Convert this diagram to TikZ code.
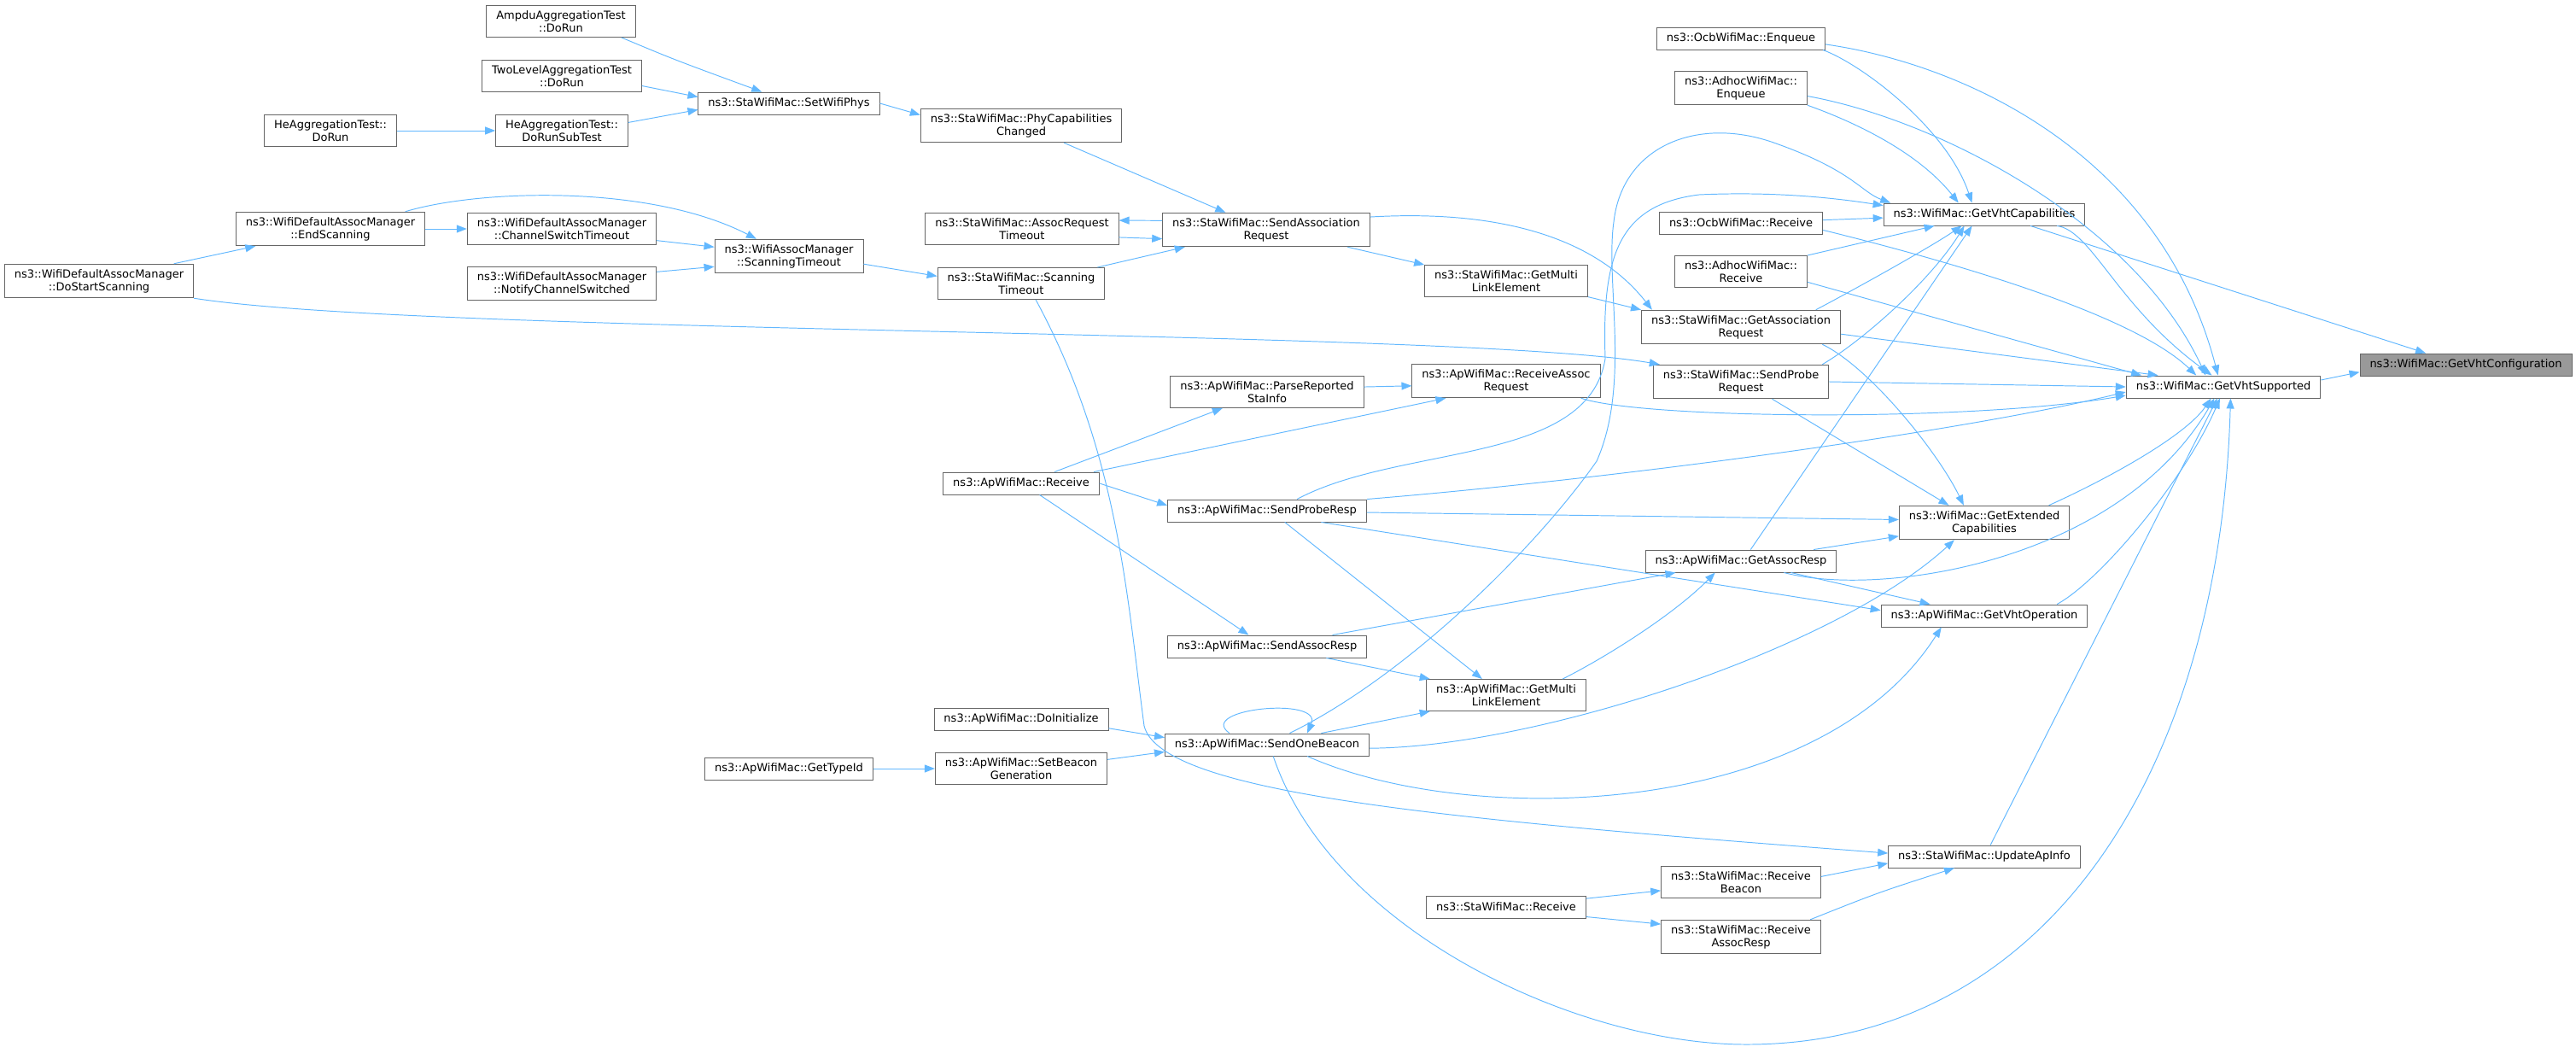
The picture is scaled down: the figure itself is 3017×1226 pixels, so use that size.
\documentclass[tikz,border=0pt]{standalone}
\usepackage{fontspec}
\usetikzlibrary{arrows.meta}
\newfontfamily\dvsans{DejaVu Sans}
\definecolor{callblue}{HTML}{63B8FF}
\definecolor{boxline}{HTML}{666666}
\definecolor{rootgray}{HTML}{999999}
\tikzset{
  fn/.style={draw=boxline, fill=white, line width=0.55pt, font=\dvsans\fontsize{7.4}{8.5}\selectfont,
    align=center, inner xsep=0.23cm, inner ysep=0.12cm, minimum height=0.52cm},
  rootfn/.style={fn, fill=rootgray},
  call/.style={->, draw=callblue, line width=0.55pt}
}
\begin{document}
\begin{tikzpicture}[x=0.02cm, y=-0.02cm, >={Triangle[length=0.24cm,width=0.18cm]}]
\useasboundingbox (0,0) rectangle (3017,1226);

% 左侧：测试与扫描
\node[fn] (ampdu) at (657,25) {AmpduAggregationTest\\::DoRun};
\node[fn] (twolevel) at (658,89) {TwoLevelAggregationTest\\::DoRun};
\node[fn] (herun) at (387,153) {HeAggregationTest::\\DoRun};
\node[fn] (hesub) at (658,153) {HeAggregationTest::\\DoRunSubTest};
\node[fn] (setphys) at (924,121) {ns3::StaWifiMac::SetWifiPhys};
\node[fn] (endscan) at (387,268) {ns3::WifiDefaultAssocManager\\::EndScanning};
\node[fn] (chswitch) at (658,268) {ns3::WifiDefaultAssocManager\\::ChannelSwitchTimeout};
\node[fn] (notify) at (658,332) {ns3::WifiDefaultAssocManager\\::NotifyChannelSwitched};
\node[fn] (startscan) at (116,329) {ns3::WifiDefaultAssocManager\\::DoStartScanning};
\node[fn] (assocscan) at (924,300) {ns3::WifiAssocManager\\::ScanningTimeout};
\node[fn] (typeid) at (924,900) {ns3::ApWifiMac::GetTypeId};

% 中间：StaWifiMac / ApWifiMac
\node[fn] (phycap) at (1196,147) {ns3::StaWifiMac::PhyCapabilities\\Changed};
\node[fn] (reqtimeout) at (1197,268) {ns3::StaWifiMac::AssocRequest\\Timeout};
\node[fn] (stascan) at (1196,332) {ns3::StaWifiMac::Scanning\\Timeout};
\node[fn] (aprecv) at (1196,566) {ns3::ApWifiMac::Receive};
\node[fn] (doinit) at (1196,842) {ns3::ApWifiMac::DoInitialize};
\node[fn] (setbeacon) at (1196,900) {ns3::ApWifiMac::SetBeacon\\Generation};
\node[fn] (sendassocreq) at (1483,269) {ns3::StaWifiMac::SendAssociation\\Request};
\node[fn] (parsesta) at (1484,459) {ns3::ApWifiMac::ParseReported\\StaInfo};
\node[fn] (proberesp) at (1484,598) {ns3::ApWifiMac::SendProbeResp};
\node[fn] (assocresp) at (1484,757) {ns3::ApWifiMac::SendAssocResp};
\node[fn] (beacon) at (1484,872) {ns3::ApWifiMac::SendOneBeacon};
\node[fn] (stamle) at (1764,329) {ns3::StaWifiMac::GetMulti\\LinkElement};
\node[fn] (recvassocreq) at (1764,446) {ns3::ApWifiMac::ReceiveAssoc\\Request};
\node[fn] (apmle) at (1764,814) {ns3::ApWifiMac::GetMulti\\LinkElement};
\node[fn] (starecv) at (1764,1062) {ns3::StaWifiMac::Receive};

% 右侧
\node[fn] (ocbenq) at (2039,45) {ns3::OcbWifiMac::Enqueue};
\node[fn] (adhocenq) at (2039,103) {ns3::AdhocWifiMac::\\Enqueue};
\node[fn] (ocbrecv) at (2039,261) {ns3::OcbWifiMac::Receive};
\node[fn] (adhocrecv) at (2039,318) {ns3::AdhocWifiMac::\\Receive};
\node[fn] (getassocreq) at (2039,383) {ns3::StaWifiMac::GetAssociation\\Request};
\node[fn] (probereq) at (2039,447) {ns3::StaWifiMac::SendProbe\\Request};
\node[fn] (getassocresp) at (2039,657) {ns3::ApWifiMac::GetAssocResp};
\node[fn] (rxbeacon) at (2039,1033) {ns3::StaWifiMac::Receive\\Beacon};
\node[fn] (rxassocresp) at (2039,1097) {ns3::StaWifiMac::Receive\\AssocResp};
\node[fn] (vhtcap) at (2324,251) {ns3::WifiMac::GetVhtCapabilities};
\node[fn] (extcap) at (2324,612) {ns3::WifiMac::GetExtended\\Capabilities};
\node[fn] (vhtop) at (2324,721) {ns3::ApWifiMac::GetVhtOperation};
\node[fn] (updateap) at (2324,1003) {ns3::StaWifiMac::UpdateApInfo};
\node[fn] (vhtsup) at (2604,453) {ns3::WifiMac::GetVhtSupported};
\node[rootfn] (vhtconf) at (2888,427) {ns3::WifiMac::GetVhtConfiguration};

% 调用边（左侧）
\draw[call] (ampdu.-15) .. controls (790,70) .. (setphys.157);
\draw[call] (twolevel.-7) -- (setphys.176);
\draw[call] (herun) -- (hesub);
\draw[call] (hesub.7) -- (setphys.-176);
\draw[call] (setphys.east) -- (phycap.174);
\draw[call] (phycap.-22) -- (sendassocreq.157);
\draw[call] (endscan) -- (chswitch);
\draw[call] (endscan.13) .. controls (560,222) and (760,215) .. (assocscan.152);
\draw[call] (chswitch.-7) -- (assocscan.173);
\draw[call] (notify.7) -- (assocscan.-172);
\draw[call] (startscan.13) -- (endscan.-167);
\draw[call] (startscan.south east) .. controls (500,392) and (1700,385) .. (probereq.168);
\draw[call] (assocscan.-6) -- (stascan.175);
\draw[call] (stascan.12) -- (sendassocreq.-168);
\draw[call] (sendassocreq.175) -- (reqtimeout.5);
\draw[call] (reqtimeout.-5) -- (sendassocreq.-175);
\draw[call] (sendassocreq.-12) -- (stamle.north west);
\draw[call] (sendassocreq.7) .. controls (1760,245) and (1870,280) .. (getassocreq.169);
\draw[call] (stamle.-11) -- (getassocreq.north west);
\draw[call] (stascan.-48) .. controls (1310,530) and (1320,700) .. (1340,850)
  .. controls (1360,930) and (1700,960) .. (updateap.178);
\draw[call] (typeid) -- (setbeacon);

% 调用边（右侧）
\draw[call] (ocbenq.-8) .. controls (2180,75) and (2280,150) .. (vhtcap.137);
\draw[call] (ocbenq.-4) .. controls (2300,75) and (2530,180) .. (vhtsup.115);
\draw[call] (adhocenq.south east) .. controls (2150,135) and (2240,170) .. (vhtcap.156);
\draw[call] (adhocenq.-7) .. controls (2270,140) and (2500,260) .. (vhtsup.147);
\draw[call] (ocbrecv.2) -- (vhtcap.-178);
\draw[call] (ocbrecv.-5) .. controls (2300,310) and (2500,370) .. (vhtsup.157);
\draw[call] (adhocrecv.north east) -- (vhtcap.-167);
\draw[call] (adhocrecv.-9) -- (vhtsup.172);
\draw[call] (getassocreq.13) .. controls (2170,340) and (2260,290) .. (vhtcap.-153);
\draw[call] (getassocreq.-4) -- (vhtsup.170);
\draw[call] (getassocreq.-12) .. controls (2190,430) and (2270,530) .. (extcap.140);
\draw[call] (probereq.12) .. controls (2180,400) and (2260,330) .. (vhtcap.-150);
\draw[call] (probereq.east) -- (vhtsup.west);
\draw[call] (probereq.-29) -- (extcap.154);
\draw[call] (vhtcap.-14) -- (vhtconf.164);
\draw[call] (vhtsup.4) -- (vhtconf.-176);
\draw[call] (vhtcap.-9) .. controls (2450,270) and (2480,360) .. (vhtsup.135);
\draw[call] (extcap.15) .. controls (2470,560) and (2560,510) .. (vhtsup.-137);
\draw[call] (vhtop.9) .. controls (2460,680) and (2560,560) .. (vhtsup.-107);
\draw[call] (getassocresp.50) -- (vhtcap.-137);
\draw[call] (getassocresp.9) -- (extcap.-171);
\draw[call] (getassocresp.-13) -- (vhtop.168);
\draw[call] (getassocresp.-15) .. controls (2200,700) and (2480,660) .. (vhtsup.-128);
\draw[call] (updateap.62) -- (vhtsup.-118);
\draw[call] (rxbeacon.4) -- (updateap.-176);
\draw[call] (rxassocresp.14) .. controls (2200,1045) .. (updateap.-159);
\draw[call] (starecv.6) -- (rxbeacon.-174);
\draw[call] (starecv.-7) -- (rxassocresp.171);

% 调用边（ApWifiMac）
\draw[call] (parsesta.3) -- (recvassocreq.-177);
\draw[call] (aprecv.19) -- (parsesta.-160);
\draw[call] (aprecv.9) -- (recvassocreq.-164);
\draw[call] (aprecv.east) -- (proberesp.177);
\draw[call] (aprecv.-32) -- (assocresp.148);
\draw[call] (recvassocreq.-13) .. controls (1920,490) and (2300,495) .. (vhtsup.-175);
\draw[call] (proberesp.21) .. controls (1640,520) and (1860,545) .. (1880,420)
  .. controls (1876,300) and (1895,240) .. (1990,228)
  .. controls (2080,224) and (2150,232) .. (vhtcap.175);
\draw[call] (beacon.27) .. controls (1650,790) and (1800,640) .. (1870,540)
  .. controls (1910,450) and (1880,330) .. (1890,260)
  .. controls (1900,170) and (1990,135) .. (2080,168)
  .. controls (2170,200) and (2180,225) .. (vhtcap.173);
\draw[call] (proberesp.north east) .. controls (1900,560) and (2300,505) .. (vhtsup.-177);
\draw[call] (proberesp.-1) -- (extcap.178);
\draw[call] (proberesp.-33) -- (apmle.146);
\draw[call] (proberesp.-12) -- (vhtop.177);
\draw[call] (assocresp.10) -- (getassocresp.-170);
\draw[call] (assocresp.-11) -- (apmle.168);
\draw[call] (apmle.16) .. controls (1880,770) and (1960,720) .. (getassocresp.-156);
\draw[call] (beacon.163) .. controls (1400,830) and (1550,815) .. (beacon.16);
\draw[call] (beacon.12) -- (apmle.-168);
\draw[call] (beacon.-2) .. controls (1800,875) and (2150,760) .. (extcap.-150);
\draw[call] (beacon.-16) .. controls (1720,970) and (2130,960) .. (vhtop.-165);
\draw[call] (beacon.-62) .. controls (1560,1090) and (1850,1225) .. (2050,1223)
  .. controls (2400,1220) and (2600,900) .. (vhtsup.-58);
\draw[call] (setbeacon.6) -- (beacon.-176);
\draw[call] (doinit.-6) -- (beacon.176);
\end{tikzpicture}
\end{document}
